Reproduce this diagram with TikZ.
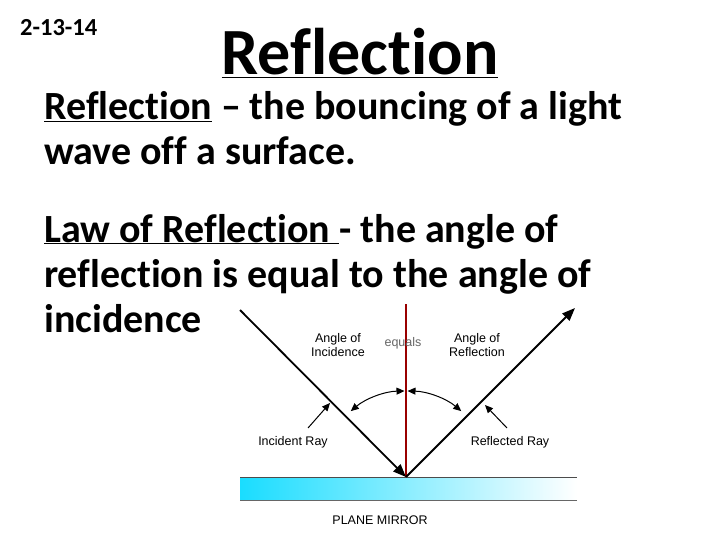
\documentclass[tikz,border=0pt]{standalone}
\usepackage{fontspec}
\setmainfont{Carlito}[Ligatures=NoCommon]
\newfontfamily\diagfont{Liberation Sans}
\usetikzlibrary{arrows.meta}
\begin{document}
\begin{tikzpicture}[x=1pt,y=-1pt,
  body/.style={anchor=base west,inner sep=0pt,font=\fontsize{40}{40}\bfseries\selectfont},
  lab/.style={font=\diagfont\fontsize{12.5}{13.5}\selectfont,align=center,inner sep=0pt},
  ray/.style={line width=1.8pt,-{Triangle[length=13pt,width=10pt]}},
  tip/.style={-{Triangle[length=8pt,width=7pt]},line width=1pt}]
\useasboundingbox (0,0) rectangle (720,540);
\node[anchor=base west,inner sep=0pt,font=\fontsize{24.5}{24.5}\bfseries\selectfont] (date) at (20,36) {2-13-14};
\node[anchor=base,inner sep=0pt,font=\fontsize{66}{66}\bfseries\selectfont] (title) at (360,75) {\underline{Reflection}};
\node[body] (l1) at (44,120) {\underline{Reflection} – the bouncing of a light};
\node[body] (l2) at (44,165) {wave off a surface.};
\node[body] (l3) at (44,242) {\underline{Law of Reflection }- the angle of};
\node[body] (l4) at (44,287) {reflection is equal to the angle of};
\node[body] (l5) at (44,332) {incidence};
% mirror
\shade[left color=cyan!85!blue!90,right color=white] (240,477) rectangle (577,500);
\draw[line width=0.8pt,black!70] (240,477) -- (577,477);
\draw[line width=0.6pt,black!60] (240,500) -- (577,500);
\coordinate (P) at (406,477);
\coordinate (A) at (240,310);
\coordinate (B) at (575,308);
\coordinate (N) at (406,304);
\draw[line width=1.8pt,red!60!black] (N) -- (P);
\draw[ray] (A) -- (P);
\draw[ray] (P) -- (B);
% arcs
\draw[tip,{Triangle[length=8pt,width=7pt]}-{Triangle[length=8pt,width=7pt]}] (P) ++(230:86) arc[start angle=230,end angle=269,radius=86];
\draw[tip,{Triangle[length=8pt,width=7pt]}-{Triangle[length=8pt,width=7pt]}] (P) ++(271:86) arc[start angle=271,end angle=310,radius=86];
\node[lab] (ai) at (338,345) {Angle of\\Incidence};
\node[lab,text=black!60] (eq) at (403,343) {equals};
\node[lab] (ar) at (477,345) {Angle of\\Reflection};
\node[lab] (ir) at (293,442) {Incident Ray};
\node[lab] (rr) at (510,442) {Reflected Ray};
\node[lab] (pm) at (380,520) {PLANE MIRROR};
\coordinate (ir1) at (308,428); \coordinate (ir2) at (330,403);
\coordinate (rr1) at (507,428); \coordinate (rr2) at (485,405);
\draw[tip] (ir1) -- (ir2);
\draw[tip] (rr1) -- (rr2);
\end{tikzpicture}
\end{document}
